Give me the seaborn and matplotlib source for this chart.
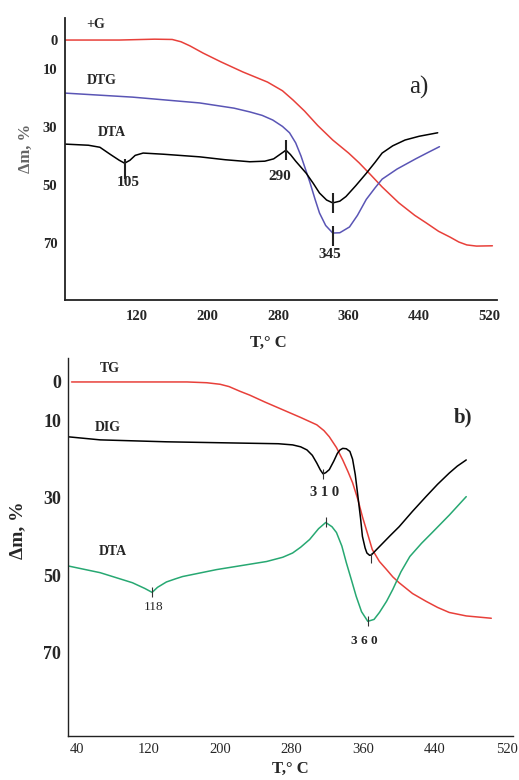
import numpy as np
import pandas as pd
import matplotlib
matplotlib.use('Agg')
import matplotlib.pyplot as plt
import seaborn as sns

# ---------------- data ----------------
# panel a)
a_tg_T = [38, 100, 140, 160, 170, 180, 195, 215, 240, 268, 285, 297, 310, 325, 342, 360,
          372, 385, 398, 417, 435, 448, 462, 475, 485, 494, 505, 523]
a_tg_v = [0, 0, -0.3, -0.2, 0.6, 2.0, 4.5, 7.5, 11, 14.5, 17.5, 20.7, 24.5, 29.5, 34.5, 39,
          42.4, 46.5, 50.7, 56.2, 60.5, 63.1, 66, 68, 69.7, 70.7, 71.1, 71]

a_dtg_T = [38, 115, 191, 230, 248, 262, 274, 285, 293, 300, 306, 311, 316, 322, 327, 334,
           342, 350, 361, 370, 380, 390, 398, 415, 436, 450, 463]
a_dtg_v = [18.3, 19.7, 21.7, 23.5, 24.8, 26, 27.6, 29.8, 32, 35.5, 40, 44.5, 49, 55, 59.7, 64,
           66.6, 66.5, 64.5, 60.5, 55, 51, 48, 44.5, 41, 38.8, 36.8]

a_dta_T = [38, 65, 78, 90, 100, 106, 112, 118, 127, 150, 191, 220, 248, 265, 275, 282, 289,
           294, 300, 312, 320, 327, 335, 342, 350, 357, 368, 380, 390, 398, 410, 424, 440, 461]
a_dta_v = [35.9, 36.3, 37, 39.5, 41.5, 42.5, 41.5, 39.8, 39, 39.4, 40.3, 41.3, 42, 41.8, 41,
           39.5, 38, 39.5, 41.8, 46, 49.5, 52.8, 55.2, 56.2, 55.6, 54, 50.3, 46, 42.2, 39,
           36.5, 34.5, 33.2, 32]

a_peak_T = [106, 289, 342, 342]
a_peak_v = [44.5, 38, 56.2, 67.5]
a_peak_lab = ['105', '290', '345']

# panel b)
b_tg_T = [34, 163, 185, 200, 210, 222, 233, 250, 270, 290, 308, 316, 322, 330, 337, 343, 348,
          354, 359, 365, 370, 378, 386, 393, 400, 415, 430, 443, 456, 475, 503]
b_tg_v = [0, 0, 0.2, 0.6, 1.2, 2.4, 3.4, 5.2, 7.2, 9.2, 11.1, 12.6, 14.2, 17, 20.2, 23.3, 26.1,
          30.5, 34.9, 39.5, 43.4, 46.5, 48.6, 50.5, 52, 54.8, 56.8, 58.4, 59.7, 60.6, 61.2]

b_dtg_T = [30, 66, 140, 214, 265, 281, 290, 297, 303, 308, 312, 315, 318, 322, 327, 331, 334,
           337, 341, 345, 348, 351, 354, 357, 359, 362, 364, 367, 369, 374, 382, 390, 400, 415,
           430, 443, 456, 465, 475]
b_dtg_v = [14.2, 15, 15.5, 15.8, 16, 16.3, 16.8, 17.6, 19, 21, 22.8, 23.8, 23.5, 22.7, 20.5,
           18.5, 17.6, 17.2, 17.3, 18, 20, 24, 29.7, 35.5, 40, 43, 44.3, 44.9, 44.8, 43.6, 41.7,
           39.8, 37.5, 33.5, 29.7, 26.5, 23.6, 21.8, 20.2]

b_dta_T = [29, 66, 102, 116, 124, 130, 140, 150, 158, 196, 252, 270, 281, 290, 300, 310, 318,
           325, 330, 336, 341, 347, 352, 358, 365, 372, 378, 386, 393, 402, 412, 425, 437, 456, 475]
b_dta_v = [47.6, 49.4, 52, 53.5, 54.5, 53.2, 51.8, 51, 50.4, 48.6, 46.5, 45.4, 44.3, 42.8, 40.8,
           38, 36.4, 37.5, 39, 42.5, 46.8, 51.5, 55.5, 59.5, 62, 61.5, 59.7, 56.8, 53.7, 49.2,
           45.2, 41.8, 39, 34.5, 29.7]

b_peak_T = [315, 124, 318, 365, 369]
b_peak_v = [23.8, 54.5, 36.4, 62, 45.5]
b_peak_lab = ['3 1 0', '118', '3 6 0']

RED = '#e8403a'
BLUE = '#5a55b5'
GREEN = '#27a872'

sns.set_style('white')
plt.rcParams['font.family'] = ['Liberation Serif', 'DejaVu Serif']
plt.rcParams['font.weight'] = 'bold'

fig = plt.figure(figsize=(5.19, 7.8), dpi=100)
ax_a = fig.add_axes([0.1252, 0.6154, 0.832, 0.3615])
ax_b = fig.add_axes([0.131, 0.0564, 0.857, 0.4846])


def curve(ax, T, v, color):
    df = pd.DataFrame({'T': T, 'v': v})
    sns.lineplot(data=df, x='T', y='v', color=color, lw=1.1,
                 estimator=None, sort=True, ax=ax)


def style_axes(ax, xlim, ylim, xticks, xlabels, ylabsize, xlabsize):
    ax.set_xlim(*xlim)
    ax.set_ylim(*ylim)
    for s in ['top', 'right']:
        ax.spines[s].set_visible(False)
    for s in ['left', 'bottom']:
        ax.spines[s].set_linewidth(1.3)
        ax.spines[s].set_color('#222222')
    ax.set_xticks(xticks)
    ax.set_xticklabels(xlabels, fontsize=xlabsize, fontweight='bold')
    yt = list(range(0, 90, 10))
    ax.set_yticks(yt)
    ax.set_yticklabels(['0', '10', '', '30', '', '50', '', '70', ''],
                       fontsize=ylabsize, fontweight='bold')
    ax.tick_params(direction='inout', length=9, width=1.2, color='#222222', pad=1)
    ax.set_xlabel('')
    ax.set_ylabel('')
    ax.patch.set_alpha(0)


# ---------------- panel a ----------------
curve(ax_a, a_tg_T, a_tg_v, RED)
curve(ax_a, a_dtg_T, a_dtg_v, BLUE)
curve(ax_a, a_dta_T, a_dta_v, 'black')
ax_a.plot(a_peak_T, a_peak_v, ls='none', marker='|', ms=14, mew=1.5, color='#222222')
xt_a = list(range(80, 521, 40))
style_axes(ax_a, (38.4, 528), (89.7, -7.6), xt_a,
           [str(t) if t in (120, 200, 280, 360, 440, 520) else '' for t in xt_a], 10.5, 10.5)
ax_a.tick_params(axis='x', pad=3)
ax_a.text(110, 49.3, a_peak_lab[0], ha='center', va='center', fontsize=11)
ax_a.text(282, 47.2, a_peak_lab[1], ha='center', va='center', fontsize=11)
ax_a.text(339, 74, a_peak_lab[2], ha='center', va='center', fontsize=11)
ax_a.text(73, -5.2, '+G', ha='center', va='center', fontsize=10)
ax_a.text(80, 13.8, 'DTG', ha='center', va='center', fontsize=10)
ax_a.text(92, 32, 'DTA', ha='center', va='center', fontsize=10)
ax_a.text(440, 16.5, 'a)', ha='center', va='center', fontsize=18, fontweight='normal')
fig.text(0.05, 0.81, 'Δm, %', rotation=90, ha='center', va='center',
         fontsize=12, color='#666666')
fig.text(268 / 519, 1 - 343 / 780, 'T,° C', ha='center', va='center', fontsize=12)

# ---------------- panel b ----------------
curve(ax_b, b_tg_T, b_tg_v, RED)
curve(ax_b, b_dtg_T, b_dtg_v, 'black')
curve(ax_b, b_dta_T, b_dta_v, GREEN)
ax_b.plot(b_peak_T, b_peak_v, ls='none', marker='|', ms=7, mew=0.8, color='#333333')
xt_b = list(range(40, 521, 40))
style_axes(ax_b, (30, 527), (91.7, -6.2), xt_b,
           [str(t) if t in (40, 120, 200, 280, 360, 440, 520) else '' for t in xt_b], 13, 10.5)
for lab in ax_b.get_xticklabels():
    lab.set_fontweight('normal')
ax_b.spines['left'].set_linewidth(1.0)
ax_b.spines['bottom'].set_linewidth(1.0)
ax_b.tick_params(width=0.9, length=8)
ax_b.text(317, 28.7, b_peak_lab[0], ha='center', va='center', fontsize=10.5)
ax_b.text(126, 58.4, b_peak_lab[1], ha='center', va='center', fontsize=9.5, fontweight='normal')
ax_b.text(361, 67.2, b_peak_lab[2], ha='center', va='center', fontsize=9.5)
ax_b.text(77, -3.4, 'TG', ha='center', va='center', fontsize=10)
ax_b.text(75, 11.9, 'DIG', ha='center', va='center', fontsize=10)
ax_b.text(80, 43.9, 'DTA', ha='center', va='center', fontsize=10)
ax_b.text(471, 9.3, 'b)', ha='center', va='center', fontsize=15)
fig.text(0.035, 1 - 530 / 780, 'Δm, %', rotation=90, ha='center', va='center', fontsize=14)
fig.text(290 / 519, 1 - 769 / 780, 'T,° C', ha='center', va='center', fontsize=12)

fig.savefig('out.png', dpi=100)
